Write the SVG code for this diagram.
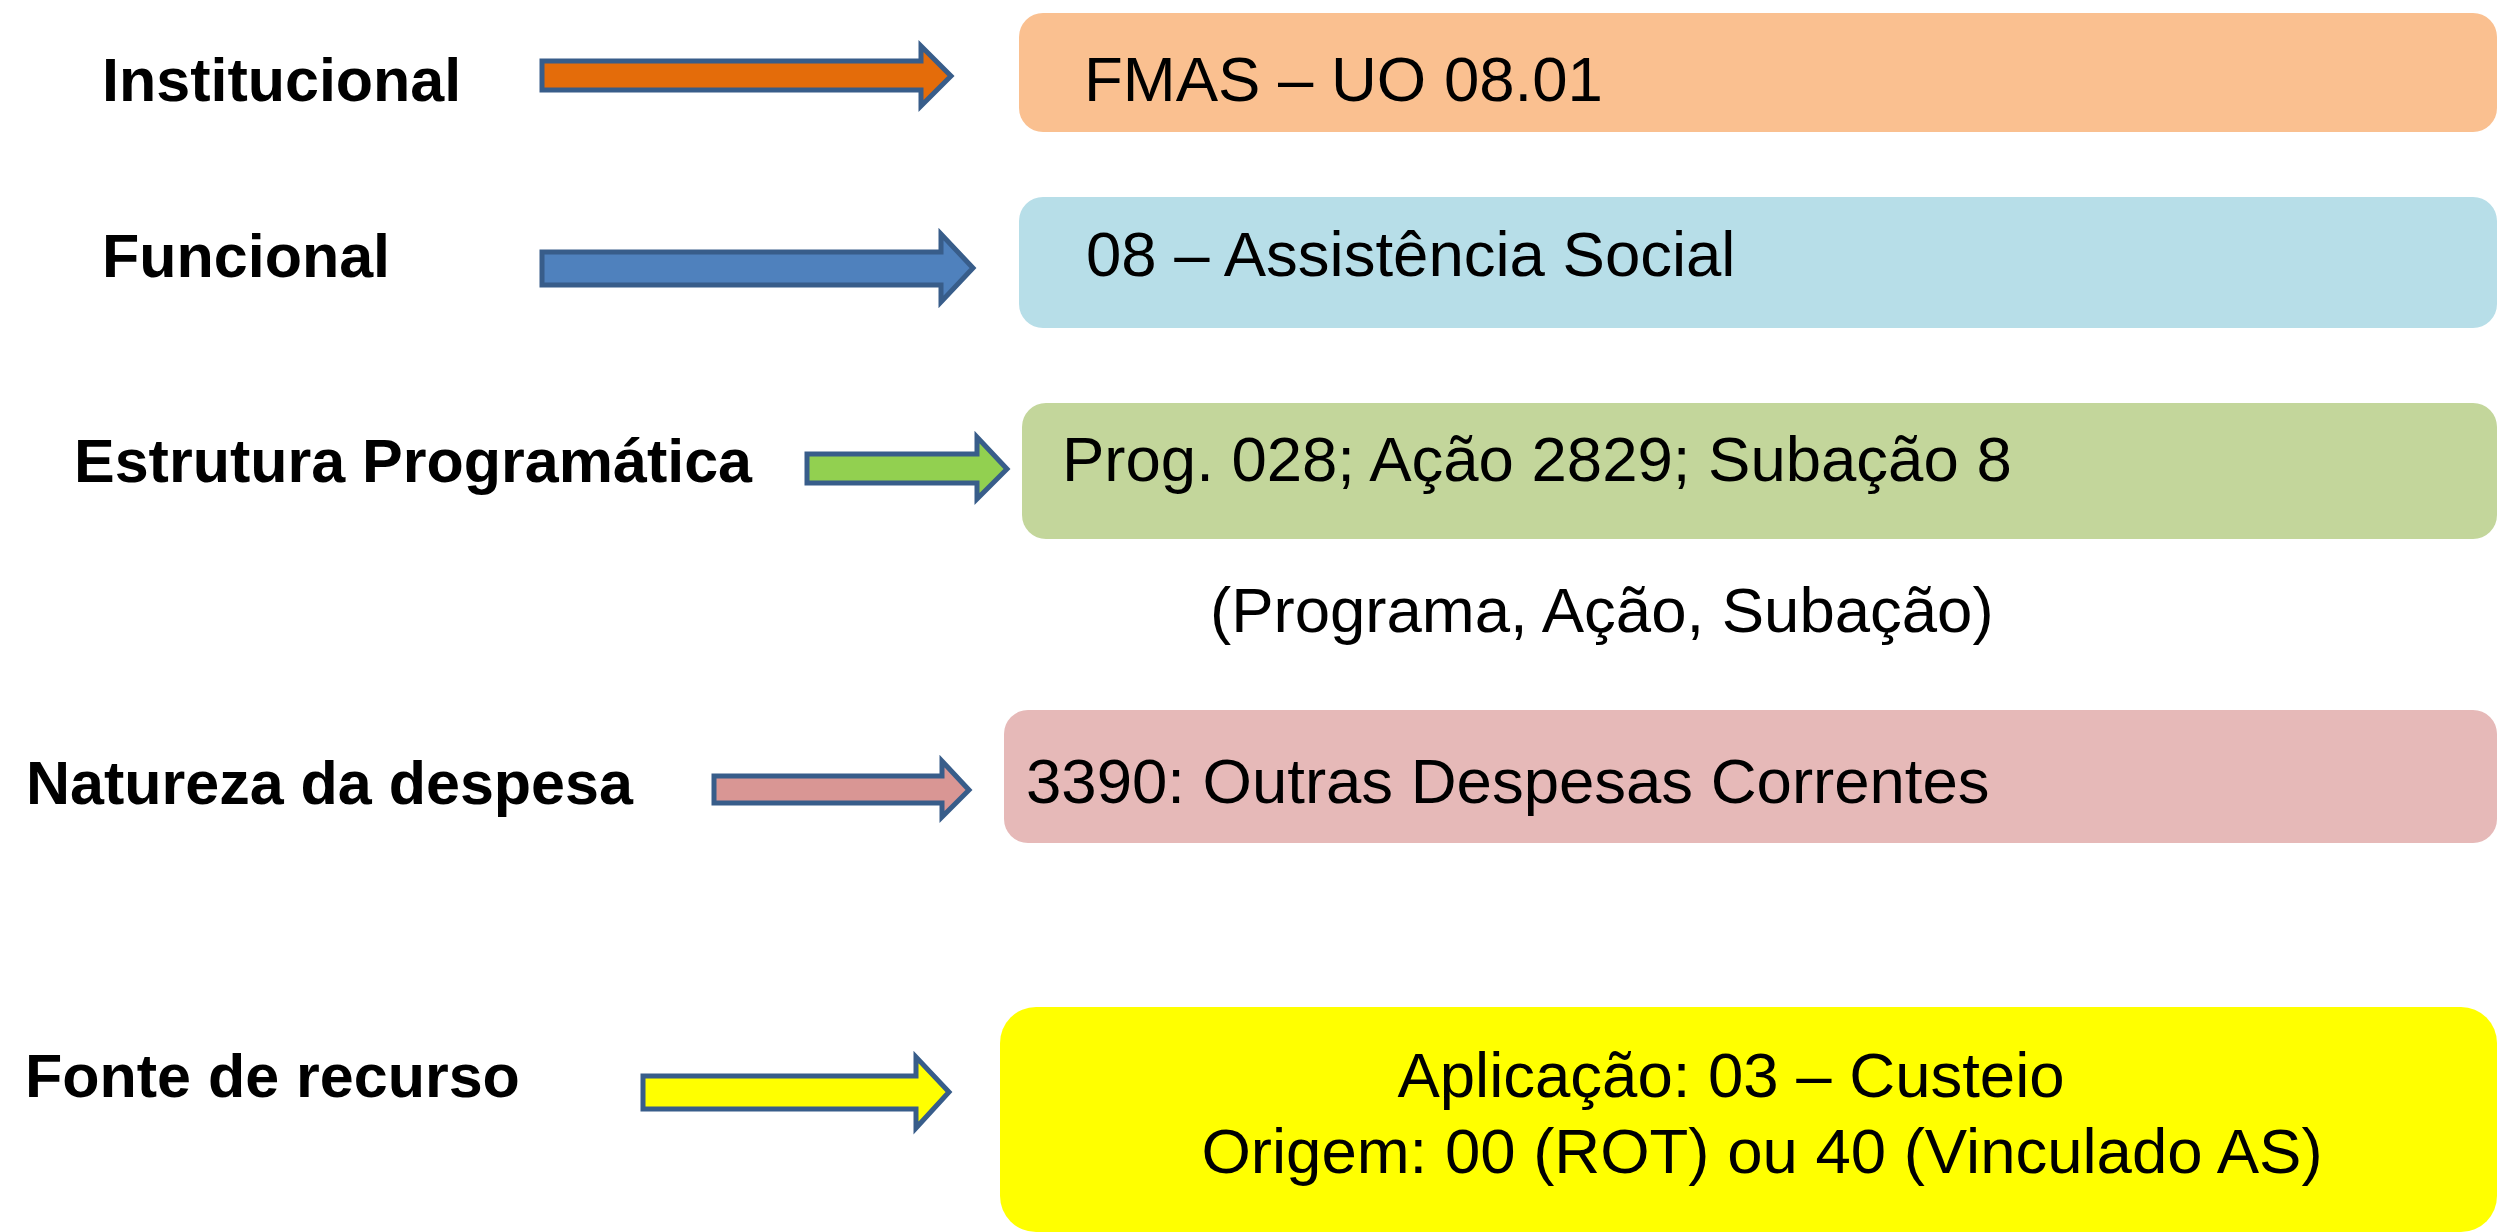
<svg xmlns="http://www.w3.org/2000/svg" width="2497" height="1232" viewBox="0 0 2497 1232">
<style>
.lbl{font-family:"Liberation Sans",Arial,sans-serif;font-weight:bold;font-size:61px;fill:#000}
.txt{font-family:"Liberation Sans",Arial,sans-serif;font-size:63.5px;fill:#000}
.arr{stroke:#385D8A;stroke-width:5;stroke-linejoin:miter}
</style>
<rect width="2497" height="1232" fill="#ffffff"/>
<g id="connectors">
<path class="arr" fill="#E46C0A" d="M542,61 H921 V46 L951,76 L921,106 V90 H542 Z"/>
<path class="arr" fill="#4F81BD" d="M542,252 H941 V234 L973,268 L941,302 V285 H542 Z"/>
<path class="arr" fill="#92D050" d="M807,454 H977 V437 L1007,469 L977,499 V483 H807 Z"/>
<path class="arr" fill="#D99694" d="M714,776 H942 V761 L969,790 L942,817 V803 H714 Z"/>
<path class="arr" fill="#FFFF00" d="M643,1076 H916 V1057 L949,1092 L916,1128 V1109 H643 Z"/>
</g>
<g id="label-institucional"><text class="lbl" x="102" y="101">Institucional</text></g>
<g id="label-funcional"><text class="lbl" x="102" y="277">Funcional</text></g>
<g id="label-estrutura"><text class="lbl" x="74" y="482">Estrutura Programática</text></g>
<g id="label-natureza"><text class="lbl" x="26" y="804">Natureza da despesa</text></g>
<g id="label-fonte"><text class="lbl" x="25" y="1097">Fonte de recurso</text></g>
<g id="box-institucional">
<rect x="1019" y="13" width="1478" height="119" rx="24" fill="#FAC090"/>
<text class="txt" x="1084" y="101">FMAS – UO 08.01</text>
</g>
<g id="box-funcional">
<rect x="1019" y="197" width="1478" height="131" rx="24" fill="#B7DEE8"/>
<text class="txt" x="1086" y="276">08 – Assistência Social</text>
</g>
<g id="box-estrutura">
<rect x="1022" y="403" width="1475" height="136" rx="24" fill="#C3D69B"/>
<text class="txt" x="1062" y="481">Prog. 028; Ação 2829; Subação 8</text>
</g>
<g id="note-estrutura"><text class="txt" x="1210" y="632">(Programa, Ação, Subação)</text></g>
<g id="box-natureza">
<rect x="1004" y="710" width="1493" height="133" rx="24" fill="#E6B9B8"/>
<text class="txt" x="1026" y="803">3390: Outras Despesas Correntes</text>
</g>
<g id="box-fonte">
<rect x="1000" y="1007" width="1497" height="225" rx="36" fill="#FFFF00"/>
<text class="txt" x="1731" y="1097" text-anchor="middle">Aplicação: 03 – Custeio</text>
<text class="txt" x="1762" y="1173" text-anchor="middle">Origem: 00 (ROT) ou 40 (Vinculado AS)</text>
</g>
</svg>
